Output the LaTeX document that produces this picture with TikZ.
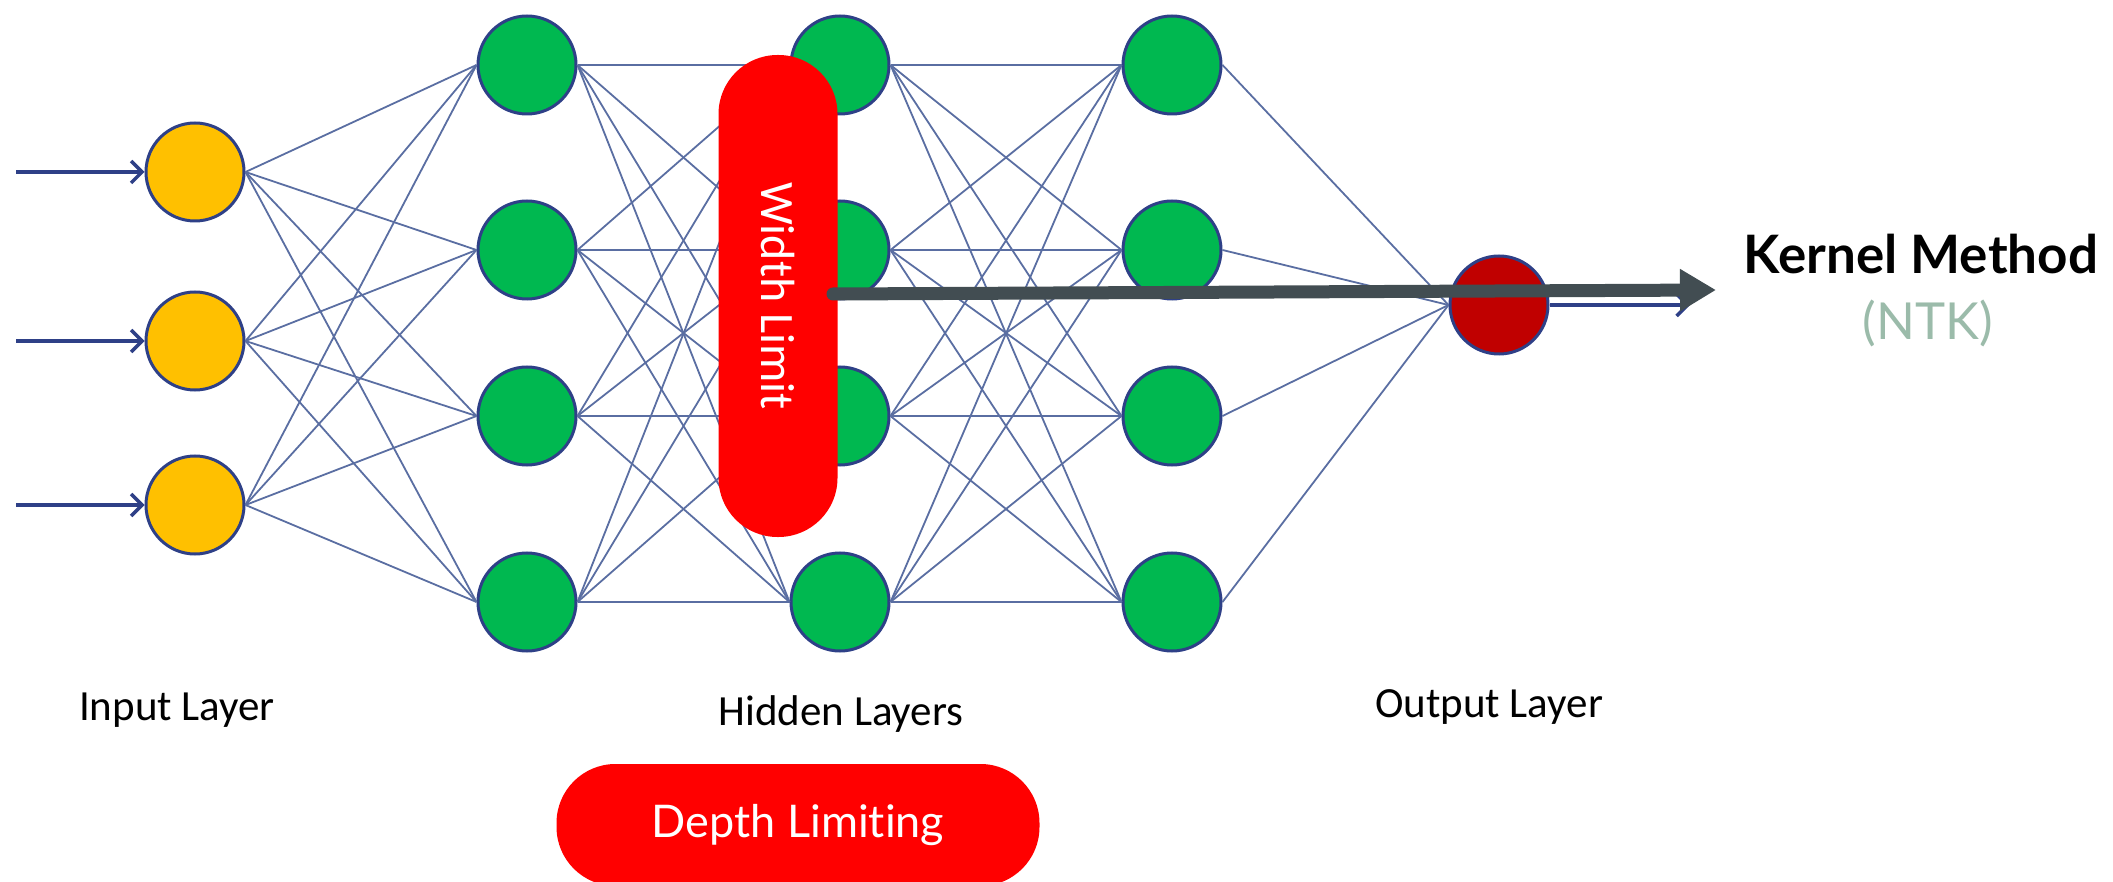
\documentclass[tikz,border=0pt]{standalone}
\usepackage{fontspec}
\setmainfont{Carlito}
\newfontfamily\gillfont[Ligatures=NoCommon]{Lato}
\usetikzlibrary{arrows.meta}
\definecolor{nodeline}{RGB}{46,64,135}
\definecolor{wirecol}{RGB}{90,110,162}
\definecolor{ingold}{RGB}{255,192,0}
\definecolor{hidgreen}{RGB}{0,184,80}
\definecolor{outred}{RGB}{192,0,0}
\definecolor{pillred}{RGB}{255,0,0}
\definecolor{slate}{RGB}{66,77,82}
\definecolor{ntkgray}{RGB}{155,187,170}
\begin{document}
\begin{tikzpicture}[x=1pt,y=-1pt,
  neuron/.style={circle,draw=nodeline,line width=3pt,minimum size=98pt,inner sep=0pt},
  wire/.style={draw=wirecol,line width=1.8pt},
  feed/.style={draw=nodeline,line width=3.5pt,
    -{Straight Barb[length=11pt,width=22pt,line width=3.5pt]}},
  pill/.style={fill=pillred,text=white,rounded corners=59pt,inner sep=0pt},
  lab/.style={font=\fontsize{43}{50}\selectfont}]
\useasboundingbox (0,0) rectangle (2113,882);
% neurons
\foreach \y [count=\i] in {172,341,505}
  \node[neuron,fill=ingold] (i\i) at (195,\y) {};
\foreach \x/\l in {527/a,840/b,1172/c}
  \foreach \y [count=\i] in {65,250,416,602}
    \node[neuron,fill=hidgreen] (\l\i) at (\x,\y) {};
\node[neuron,fill=outred] (o) at (1499,305) {};
% weights
\foreach \i in {1,2,3} \foreach \j in {1,...,4}
  \draw[wire] (i\i.east) -- (a\j.west);
\foreach \i in {1,...,4} \foreach \j in {1,...,4}
  \draw[wire] (a\i.east) -- (b\j.west) (b\i.east) -- (c\j.west);
\foreach \i in {1,...,4}
  \draw[wire] (c\i.east) -- (o.west);
% inputs and output
\foreach \y [count=\i] in {172,341,505} {
  \coordinate (s\i) at (16,\y);
  \draw[feed] (s\i) -- (i\i.west);
}
\coordinate (t) at (1690,305);
\draw[feed] (o.east) -- (t);
% labels
\node[lab] (inlab) at (177,710) {Input Layer};
\node[lab] (hidlab) at (841,714) {Hidden Layers};
\node[lab] (outlab) at (1489,707) {Output Layer};
% limits
\node[pill,minimum width=482pt,minimum height=119pt,rotate=-90,
  font=\fontsize{48}{50}\selectfont] (wl) at (778,296) {Width Limit};
\node[pill,minimum width=483pt,minimum height=122pt,
  font=\gillfont\fontsize{45}{50}\selectfont] (dl) at (798,825) {Depth Limiting};
\coordinate (ka) at (833,294);
\coordinate (kb) at (1716,290);
\draw[slate,line width=13pt,line cap=round,
  -{Triangle[length=36pt,width=40pt]}] (ka) -- (kb);
\node[font=\gillfont\bfseries\fontsize{53}{58}\selectfont] (km) at (1921,254) {Kernel Method};
\node[font=\gillfont\fontsize{51}{56}\selectfont,text=ntkgray] (ntk) at (1928,323) {(NTK)};
\end{tikzpicture}
\end{document}
